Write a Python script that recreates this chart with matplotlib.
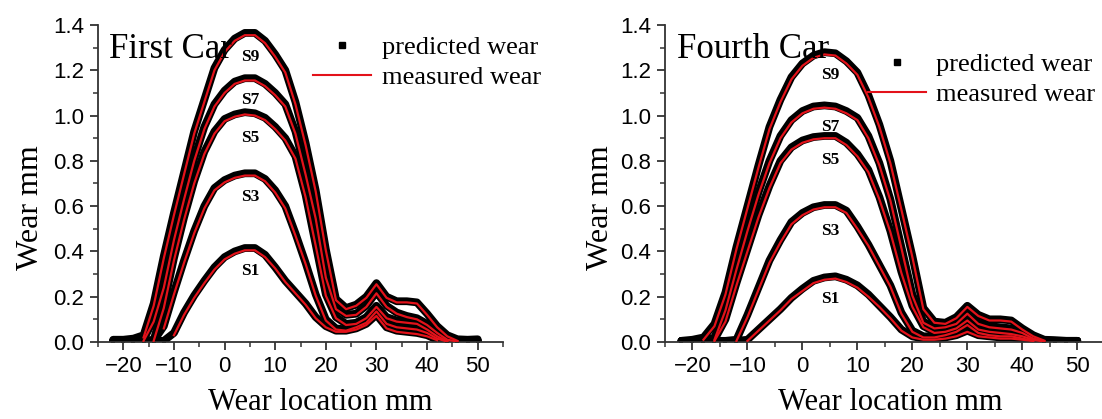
import numpy as np
import matplotlib.pyplot as plt
from matplotlib.lines import Line2D
from matplotlib.ticker import MultipleLocator, FormatStrFormatter

nan = np.nan
# wear location grid (mm), shared by all curves
x = [-22, -20, -18, -16, -14, -12, -10, -8, -6, -4, -2, 0, 2, 4, 6, 8, 10, 12,
     14, 16, 18, 20, 22, 24, 26, 28, 30, 32, 34, 36, 38, 40, 42, 44, 46, 48, 50]

# ---- First car, predicted wear (mm)
first_s1_pred = [0.005, 0.005, 0.005, 0.005, 0.005, 0.005, 0.04, 0.13, 0.205, 0.27, 0.33, 0.375, 0.40, 0.415, 0.415, 0.385, 0.33, 0.27,
                 0.22, 0.17, 0.11, 0.07, 0.05, 0.05, 0.06, 0.08, 0.12, 0.065, 0.05, 0.045, 0.04, 0.03, 0.01, 0.005, 0.005, 0.005, 0.005]
first_s3_pred = [0.005, 0.005, 0.005, 0.005, 0.005, 0.07, 0.22, 0.36, 0.49, 0.60, 0.68, 0.715, 0.735, 0.745, 0.745, 0.72, 0.67, 0.60,
                 0.48, 0.35, 0.21, 0.10, 0.06, 0.055, 0.07, 0.09, 0.14, 0.085, 0.07, 0.065, 0.06, 0.045, 0.02, 0.005, 0.005, 0.005, 0.005]
first_s5_pred = [0.005, 0.005, 0.005, 0.005, 0.01, 0.16, 0.37, 0.55, 0.71, 0.84, 0.93, 0.985, 1.005, 1.015, 1.01, 0.99, 0.95, 0.90,
                 0.82, 0.65, 0.43, 0.21, 0.11, 0.08, 0.085, 0.11, 0.16, 0.11, 0.095, 0.09, 0.085, 0.06, 0.03, 0.008, 0.005, 0.005, 0.005]
first_s7_pred = [0.005, 0.005, 0.008, 0.01, 0.10, 0.25, 0.46, 0.64, 0.81, 0.95, 1.05, 1.11, 1.15, 1.165, 1.165, 1.14, 1.10, 1.05,
                 0.93, 0.75, 0.55, 0.29, 0.15, 0.12, 0.125, 0.16, 0.22, 0.16, 0.13, 0.115, 0.105, 0.08, 0.045, 0.015, 0.005, 0.005, 0.005]
first_s9_pred = [0.01, 0.01, 0.015, 0.03, 0.17, 0.38, 0.57, 0.75, 0.93, 1.07, 1.21, 1.29, 1.34, 1.365, 1.365, 1.33, 1.27, 1.20,
                 1.06, 0.88, 0.67, 0.41, 0.19, 0.15, 0.165, 0.20, 0.26, 0.20, 0.18, 0.18, 0.175, 0.125, 0.07, 0.03, 0.012, 0.01, 0.012]

# ---- First car, measured wear (mm)
first_s1_meas = [nan, nan, nan, nan, nan, nan, 0.03, 0.12, 0.195, 0.26, 0.32, 0.365, 0.39, 0.405, 0.405, 0.375, 0.325, 0.265,
                 0.215, 0.165, 0.105, 0.065, 0.045, 0.045, 0.055, 0.075, 0.115, 0.06, 0.045, 0.04, 0.035, 0.025, 0.008, nan, nan, nan, nan]
first_s3_meas = [nan, nan, nan, nan, nan, 0.06, 0.21, 0.35, 0.48, 0.59, 0.67, 0.705, 0.725, 0.735, 0.735, 0.71, 0.66, 0.59,
                 0.47, 0.345, 0.205, 0.095, 0.055, 0.05, 0.065, 0.085, 0.135, 0.08, 0.065, 0.06, 0.055, 0.04, 0.015, 0.002, nan, nan, nan]
first_s5_meas = [nan, nan, nan, nan, 0.005, 0.15, 0.36, 0.54, 0.70, 0.83, 0.92, 0.975, 0.995, 1.005, 1.0, 0.98, 0.94, 0.89,
                 0.81, 0.64, 0.425, 0.205, 0.105, 0.075, 0.08, 0.105, 0.155, 0.105, 0.09, 0.085, 0.08, 0.055, 0.025, 0.004, nan, nan, nan]
first_s7_meas = [nan, nan, nan, 0.005, 0.09, 0.24, 0.45, 0.63, 0.80, 0.94, 1.04, 1.10, 1.14, 1.155, 1.155, 1.13, 1.09, 1.04,
                 0.92, 0.74, 0.545, 0.285, 0.145, 0.115, 0.12, 0.155, 0.215, 0.155, 0.125, 0.11, 0.10, 0.075, 0.04, 0.01, 0.002, nan, nan]
first_s9_meas = [nan, nan, nan, 0.02, 0.16, 0.37, 0.56, 0.74, 0.92, 1.06, 1.20, 1.28, 1.33, 1.355, 1.355, 1.32, 1.26, 1.19,
                 1.05, 0.87, 0.665, 0.405, 0.185, 0.145, 0.16, 0.195, 0.255, 0.195, 0.175, 0.175, 0.17, 0.12, 0.065, 0.025, 0.005, nan, nan]

# ---- Fourth car, predicted wear (mm)
fourth_s1_pred = [0.005, 0.005, 0.005, 0.005, 0.005, 0.005, 0.01, 0.055, 0.10, 0.145, 0.195, 0.235, 0.27, 0.285, 0.29, 0.275, 0.25, 0.21,
                  0.16, 0.11, 0.055, 0.025, 0.015, 0.015, 0.02, 0.03, 0.05, 0.03, 0.025, 0.02, 0.02, 0.015, 0.008, 0.005, 0.005, 0.005, 0.005]
fourth_s3_pred = [0.005, 0.005, 0.005, 0.005, 0.005, 0.01, 0.12, 0.24, 0.36, 0.45, 0.53, 0.57, 0.595, 0.605, 0.605, 0.58, 0.51, 0.43,
                  0.34, 0.25, 0.13, 0.05, 0.025, 0.025, 0.035, 0.05, 0.08, 0.045, 0.035, 0.03, 0.03, 0.02, 0.01, 0.005, 0.005, 0.005, 0.005]
fourth_s5_pred = [0.005, 0.005, 0.005, 0.01, 0.10, 0.26, 0.41, 0.56, 0.69, 0.80, 0.86, 0.89, 0.905, 0.91, 0.91, 0.88, 0.83, 0.76,
                  0.64, 0.49, 0.31, 0.16, 0.07, 0.045, 0.05, 0.065, 0.10, 0.06, 0.05, 0.045, 0.04, 0.03, 0.015, 0.005, 0.005, 0.005, 0.005]
fourth_s7_pred = [0.005, 0.005, 0.005, 0.02, 0.15, 0.33, 0.50, 0.66, 0.80, 0.91, 0.98, 1.02, 1.04, 1.045, 1.04, 1.02, 0.99, 0.91,
                  0.79, 0.63, 0.42, 0.21, 0.09, 0.065, 0.07, 0.085, 0.13, 0.085, 0.07, 0.065, 0.06, 0.045, 0.02, 0.008, 0.005, 0.005, 0.005]
fourth_s9_pred = [0.005, 0.01, 0.02, 0.08, 0.22, 0.42, 0.60, 0.78, 0.95, 1.07, 1.17, 1.23, 1.265, 1.28, 1.275, 1.24, 1.19, 1.09,
                  0.96, 0.80, 0.59, 0.38, 0.15, 0.09, 0.085, 0.11, 0.16, 0.12, 0.10, 0.10, 0.095, 0.06, 0.03, 0.01, 0.008, 0.005, 0.005]

# ---- Fourth car, measured wear (mm)
fourth_s1_meas = [nan, nan, nan, nan, nan, nan, 0.005, 0.05, 0.095, 0.14, 0.19, 0.225, 0.26, 0.275, 0.28, 0.265, 0.24, 0.20,
                  0.155, 0.105, 0.05, 0.02, 0.01, 0.01, 0.015, 0.025, 0.045, 0.025, 0.02, 0.015, 0.015, 0.01, 0.005, nan, nan, nan, nan]
fourth_s3_meas = [nan, nan, nan, nan, nan, 0.005, 0.11, 0.23, 0.35, 0.44, 0.52, 0.56, 0.585, 0.595, 0.595, 0.57, 0.50, 0.425,
                  0.335, 0.245, 0.125, 0.045, 0.02, 0.02, 0.03, 0.045, 0.075, 0.04, 0.03, 0.025, 0.025, 0.015, 0.005, nan, nan, nan, nan]
fourth_s5_meas = [nan, nan, nan, 0.005, 0.09, 0.25, 0.40, 0.55, 0.68, 0.79, 0.85, 0.88, 0.895, 0.90, 0.90, 0.87, 0.82, 0.75,
                  0.63, 0.485, 0.305, 0.155, 0.065, 0.04, 0.045, 0.06, 0.095, 0.055, 0.045, 0.04, 0.035, 0.025, 0.01, 0.002, nan, nan, nan]
fourth_s7_meas = [nan, nan, nan, 0.01, 0.14, 0.32, 0.49, 0.65, 0.79, 0.90, 0.97, 1.01, 1.03, 1.035, 1.03, 1.01, 0.98, 0.90,
                  0.78, 0.625, 0.415, 0.205, 0.085, 0.06, 0.065, 0.08, 0.125, 0.08, 0.065, 0.06, 0.055, 0.04, 0.015, 0.004, nan, nan, nan]
fourth_s9_meas = [nan, nan, 0.01, 0.07, 0.21, 0.41, 0.59, 0.77, 0.94, 1.06, 1.16, 1.22, 1.255, 1.27, 1.265, 1.23, 1.18, 1.08,
                  0.95, 0.79, 0.585, 0.375, 0.145, 0.085, 0.08, 0.105, 0.155, 0.115, 0.095, 0.095, 0.09, 0.055, 0.025, 0.006, nan, nan, nan]

curve_names = ['S1', 'S3', 'S5', 'S7', 'S9']
first_label_y = [0.315, 0.64, 0.90, 1.07, 1.26]
fourth_label_y = [0.19, 0.49, 0.805, 0.95, 1.18]
label_x = 5.0
panel_titles = ['First Car', 'Fourth Car']

SERIF = 'Liberation Serif'
SANS = 'Liberation Sans'
RED = '#e3121a'

fig = plt.figure(figsize=(11.02, 4.19), dpi=100)
W, H = 1102.0, 419.0
ax1 = fig.add_axes([98 / W, (H - 342) / H, 405 / W, 317 / H])
ax2 = fig.add_axes([665 / W, (H - 342) / H, 437 / W, 317 / H])

panels = [
    (ax1, [first_s1_pred, first_s3_pred, first_s5_pred, first_s7_pred, first_s9_pred],
     [first_s1_meas, first_s3_meas, first_s5_meas, first_s7_meas, first_s9_meas],
     first_label_y, (-25, 55), (1.12, 1.0), (-0.131, 0.423), 0.548),
    (ax2, [fourth_s1_pred, fourth_s3_pred, fourth_s5_pred, fourth_s7_pred, fourth_s9_pred],
     [fourth_s1_meas, fourth_s3_meas, fourth_s5_meas, fourth_s7_meas, fourth_s9_meas],
     fourth_label_y, (-25, 54.5), (1.009, 0.947), (-0.114, 0.423), 0.515),
]

for i, (ax, preds, meas, lab_y, xlim, leg_pos, ylab_pos, xlab_x) in enumerate(panels):
    for yp in preds:
        ax.plot(x, yp, color='k', lw=5.6, marker='s', ms=3, mew=0,
                solid_joinstyle='round', solid_capstyle='round', zorder=2)
    for ym in meas:
        ax.plot(x, ym, color=RED, lw=1.6, solid_joinstyle='round', zorder=3)
    for name, ly in zip(curve_names, lab_y):
        ax.text(label_x, ly, name, family=SERIF, fontweight='bold', fontsize=12.5,
                ha='center', va='center', zorder=4)
    ax.set_xlim(*xlim)
    ax.set_ylim(0, 1.4)
    ax.xaxis.set_major_locator(MultipleLocator(10))
    ax.xaxis.set_minor_locator(MultipleLocator(5))
    ax.yaxis.set_major_locator(MultipleLocator(0.2))
    ax.yaxis.set_minor_locator(MultipleLocator(0.1))
    ax.yaxis.set_major_formatter(FormatStrFormatter('%.1f'))
    ax.set_xticks([-20, -10, 0, 10, 20, 30, 40, 50])
    for s in ['top', 'right']:
        ax.spines[s].set_visible(False)
    for s in ['left', 'bottom']:
        ax.spines[s].set_linewidth(1.3)
        ax.spines[s].set_color('#333333')
    ax.tick_params(which='major', direction='out', length=6, width=1.3, color='#333333',
                   labelsize=16, pad=4)
    ax.tick_params(which='minor', direction='out', length=3.5, width=1.1, color='#333333')
    for t in ax.get_xticklabels() + ax.get_yticklabels():
        t.set_family(SANS)
    ax.set_xlabel('Wear location mm', family=SERIF, fontsize=22)
    ax.xaxis.set_label_coords(xlab_x, -0.145)
    ax.set_ylabel('Wear mm', family=SERIF, fontsize=23)
    ax.yaxis.set_label_coords(*ylab_pos)
    ax.text(-22.8, 1.255, panel_titles[i], family=SERIF, fontsize=25, va='baseline', zorder=5)
    handles = [Line2D([], [], color='k', marker='s', ms=5, ls='none'),
               Line2D([], [], color=RED, lw=1.5)]
    ax.legend(handles, ['predicted wear', 'measured wear'], loc='upper right',
              bbox_to_anchor=leg_pos, frameon=False, handlelength=2.2,
              handletextpad=0.4, labelspacing=0.25, borderaxespad=0,
              prop={'family': SERIF, 'size': 19})

fig.savefig('out.png', dpi=100)
